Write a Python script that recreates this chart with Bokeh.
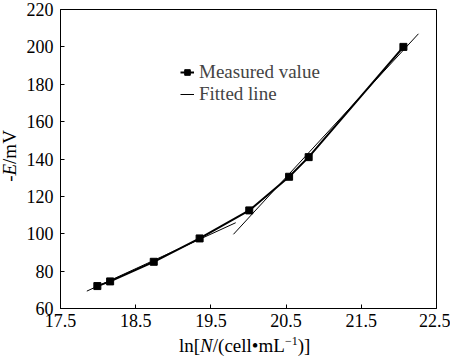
from bokeh.plotting import figure
from bokeh.models import Legend, LegendItem, FixedTicker, Range1d, Div
from bokeh.layouts import row, column
from bokeh.embed import file_html
from bokeh.resources import INLINE

# ---- data ----
ln_n = [17.99, 18.16, 18.74, 19.35, 20.01, 20.54, 20.80, 22.06]
neg_e = [72.0, 74.5, 85.0, 97.5, 112.5, 130.5, 141.0, 200.0]

fit1_x = [17.85, 19.83]
fit1_y = [69.3, 105.9]
fit2_x = [19.80, 22.26]
fit2_y = [99.7, 207.0]

x_ticks = [17.5, 18.5, 19.5, 20.5, 21.5, 22.5]
y_ticks = [60, 80, 100, 120, 140, 160, 180, 200, 220]

x_label_html = "ln[<i>N</i>/(cell\u2022mL<span style=\"font-size:12px; position:relative; top:-7px;\">\u22121</span>)]"
y_label_svg = '-<tspan style="font-style:italic">E</tspan>/mV'

FONT = "Liberation Serif"
YDIV_W = 22
FIG_W = 450 - YDIV_W
FIG_H = 334
XDIV_H = 359 - FIG_H

p = figure(width=FIG_W, height=FIG_H, output_backend="svg", toolbar_location=None,
           x_range=Range1d(17.5, 22.5), y_range=Range1d(60, 220),
           min_border_left=60 - YDIV_W, min_border_right=14, min_border_top=9,
           min_border_bottom=FIG_H - 308, margin=0)
p.background_fill_color = "white"
p.border_fill_color = "white"
p.outline_line_color = "black"
p.outline_line_width = 1
p.xgrid.visible = False
p.ygrid.visible = False

for ax, ticks in ((p.xaxis[0], x_ticks), (p.yaxis[0], y_ticks)):
    ax.ticker = FixedTicker(ticks=ticks)
    ax.minor_tick_line_color = None
    ax.major_tick_in = 4
    ax.major_tick_out = 0
    ax.axis_line_color = "black"
    ax.major_tick_line_color = "black"
    ax.major_label_text_font = FONT
    ax.major_label_text_font_size = "18px"
    ax.major_label_text_color = "black"
p.xaxis.major_label_standoff = 5
p.yaxis.major_label_standoff = 7

r_fit1 = p.line(fit1_x, fit1_y, line_color="black", line_width=1)
r_fit2 = p.line(fit2_x, fit2_y, line_color="black", line_width=1)
r_line = p.line(ln_n, neg_e, line_color="black", line_width=2)
r_pts = p.scatter(ln_n, neg_e, marker="square", size=7, fill_color="black", line_color="black")

legend = Legend(items=[LegendItem(label="Measured value", renderers=[r_line, r_pts]),
                       LegendItem(label="Fitted line", renderers=[r_fit1])],
                location=(120, 203), padding=0, margin=0, spacing=0,
                glyph_width=14, glyph_height=20, label_standoff=5,
                label_text_font=FONT, label_text_font_size="19px",
                label_text_baseline="middle", label_height=20,
                background_fill_alpha=0, border_line_color=None)
p.add_layout(legend, "center")

base_css = f"font-family:'{FONT}'; font-size:19px; color:black; white-space:nowrap;"

xdiv = Div(width=FIG_W, height=XDIV_H, margin=0,
           text=(f'<div style="position:relative; width:{FIG_W}px; height:{XDIV_H}px;">'
                 f'<div style="position:absolute; left:{179 - YDIV_W}px; top:2px; line-height:19px; {base_css}">'
                 f'{x_label_html}</div></div>'))
ydiv = Div(width=YDIV_W, height=359, margin=0,
           text=(f'<svg xmlns="http://www.w3.org/2000/svg" width="{YDIV_W}" height="359" style="display:block">'
                 f'<text transform="translate(15.5,156) rotate(-90)" text-anchor="middle" '
                 f'style="font-family:\'{FONT}\'; font-size:19px; fill:black;">{y_label_svg}</text></svg>'))

layout = row(ydiv, column(p, xdiv, spacing=0, margin=0), spacing=0, margin=0)

open("out.html", "w").write(file_html(layout, INLINE))
